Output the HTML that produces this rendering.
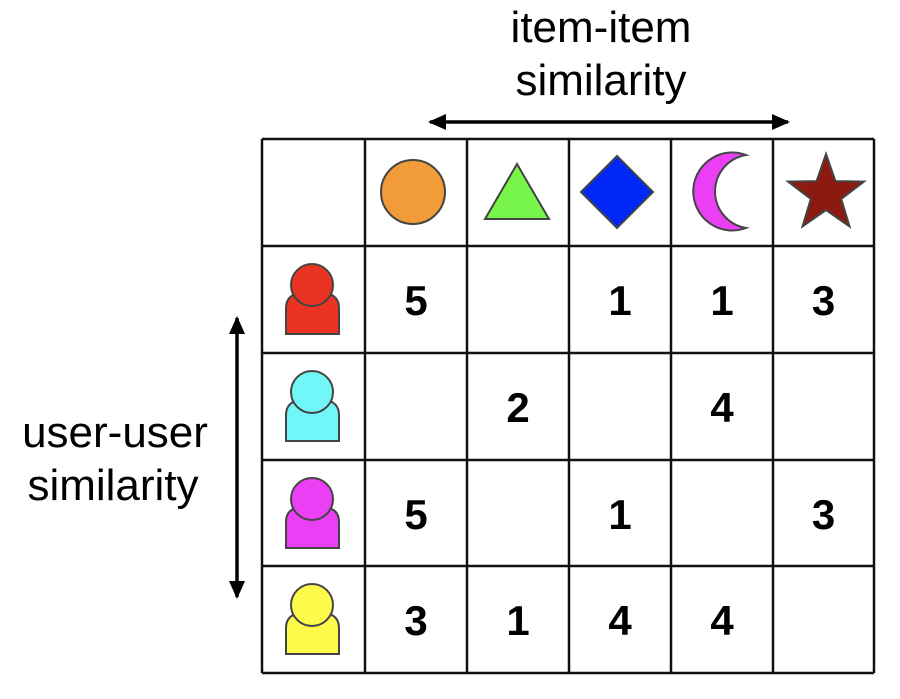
<!DOCTYPE html>
<html><head><meta charset="utf-8"><style>
body{margin:0;background:#fff;}
svg{display:block;font-family:"Liberation Sans",sans-serif;}
</style></head><body>
<svg width="900" height="699" viewBox="0 0 900 699">
<defs>
<marker id="ah" markerWidth="20" markerHeight="16" refX="16" refY="8" orient="auto-start-reverse" markerUnits="userSpaceOnUse"><path d="M0,0 L18,8 L0,16 Z" fill="#000"/></marker>
</defs>
<text x="601" y="42" font-size="44" text-anchor="middle">item-item</text>
<text x="601" y="95" font-size="44" text-anchor="middle">similarity</text>
<line x1="430" y1="122" x2="788" y2="122" stroke="#000" stroke-width="3.5" marker-start="url(#ah)" marker-end="url(#ah)"/>
<text x="115" y="447" font-size="44" text-anchor="middle">user-user</text>
<text x="113" y="500" font-size="44" text-anchor="middle">similarity</text>
<line x1="237" y1="318" x2="237" y2="597" stroke="#000" stroke-width="3.5" marker-start="url(#ah)" marker-end="url(#ah)"/>
<g id="grid" stroke="#111" stroke-width="2.5" fill="none"></g>
<g id="items" stroke="#444" stroke-width="2">
<circle cx="413" cy="192" r="32" fill="#f19c39"/>
<polygon points="517,164 549,219 485,219" fill="#77f54b"/>
<polygon points="617,156 653,192 617,228 581,192" fill="#0027f5"/>
<path d="M746,155 A39,39 0 1 0 746,228 A37,37 0 0 1 746,155 Z" fill="#ea3ff5"/>
<polygon id="star" fill="#8c1a10"/>
</g>
<g id="users"></g>
<g id="vals" font-size="42" font-weight="bold" text-anchor="middle"></g>
</svg>
<script>
const userColors=["#ea3322","#72f7f8","#ea3ff5","#fdfa4c"];
const ratings=[[5,null,1,1,3],[null,2,null,4,null],[5,null,1,null,3],[3,1,4,4,null]];
const colX=[262,365,467,569,671,773,874];
const rowY=[139,246,353,460,566,673];
const NS="http://www.w3.org/2000/svg";
function mk(t,a,p){const e=document.createElementNS(NS,t);for(const k in a)e.setAttribute(k,a[k]);p.appendChild(e);return e;}
const g=document.getElementById('grid');
colX.forEach(x=>{const l=mk('line',{x1:x,y1:rowY[0],x2:x,y2:rowY[5]},g);

});
rowY.forEach(y=>{const l=mk('line',{x1:colX[0],y1:y,x2:colX[6],y2:y},g);

});
let pts=[];const cx=826,cy=194;
for(let i=0;i<10;i++){const r=i%2?16:40;const a=-Math.PI/2+i*Math.PI/5;pts.push((cx+r*Math.cos(a)).toFixed(1)+','+(cy+r*Math.sin(a)).toFixed(1));}
document.getElementById('star').setAttribute('points',pts.join(' '));
const ug=document.getElementById('users');const vg=document.getElementById('vals');
userColors.forEach((c,i)=>{
 const top=rowY[i+1];const ox=312, oy=top+39;
 const b=mk('path',{d:`M286,${oy+49} L286,${oy+23} Q286,${oy+10} 300,${oy+8} L325,${oy+8} Q339,${oy+10} 339,${oy+23} L339,${oy+49} Z`,fill:c,stroke:'#444','stroke-width':2},ug);
 
 
 const h=mk('circle',{cx:ox,cy:oy,r:21,fill:c,stroke:'#444','stroke-width':2},ug);
 
 
 ratings[i].forEach((v,j)=>{if(v===null)return;
  const t=mk('text',{x:(colX[j+1]+colX[j+2])/2,y:top+69},vg);t.textContent=v;
  
  });
});
</script>
</body></html>
